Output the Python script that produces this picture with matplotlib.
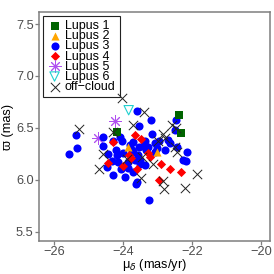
import matplotlib
matplotlib.use("Agg")
import matplotlib.pyplot as plt

plt.rcParams['font.family'] = ['Liberation Sans', 'DejaVu Sans']

lup1_x = [-24.17, -22.38, -22.32]
lup1_y = [6.46, 6.625, 6.45]
lup2_x = [-23.86, -23.01]
lup2_y = [6.32, 6.27]
lup3_x = [-25.36, -24.58, -25.57, -25.33, -24.58, -24.43, -24.32, -24.46, -24.29, -24.14,
          -23.94, -23.86, -23.62, -23.74, -24.03, -23.59, -23.19, -23.54, -23.16, -22.46,
          -22.49, -23.36, -23.07, -22.70, -23.71, -23.42, -22.78, -22.14, -22.26, -22.17,
          -23.71, -23.57, -23.33, -23.51, -23.86, -24.06, -23.71, -23.54, -22.96, -23.51,
          -23.59, -23.25, -22.43, -22.64, -24.29, -24.09, -23.28, -23.07, -23.80, -24.20,
          -24.00, -23.36, -23.01, -23.65, -24.17]
lup3_y = [6.43, 6.41, 6.25, 6.31, 6.33, 6.25, 6.18, 6.125, 6.05, 6.17,
          6.03, 6.11, 5.96, 6.29, 6.37, 6.66, 6.58, 6.52, 6.44, 6.58,
          6.48, 6.37, 6.35, 6.38, 6.36, 6.33, 6.29, 6.27, 6.19, 6.18,
          6.27, 6.24, 6.29, 6.19, 6.17, 6.10, 6.08, 6.32, 6.37, 6.15,
          5.98, 5.81, 6.32, 6.35, 6.37, 6.41, 6.32, 6.27, 6.34, 6.29,
          6.26, 6.14, 6.31, 6.19, 6.24]
lup4_x = [-24.29, -23.65, -23.48, -23.83, -23.28, -23.22, -24.43, -24.00, -23.59, -22.90,
          -22.64, -22.32, -22.96, -23.77]
lup4_y = [6.36, 6.43, 6.39, 6.24, 6.26, 6.22, 6.16, 6.13, 6.10, 6.15,
          6.10, 6.08, 6.00, 6.21]
lup5_x = [-24.23, -24.72]
lup5_y = [6.57, 6.40]
lup6_x = [-23.83]
lup6_y = [6.67]
off_x = [-24.03, -25.28, -23.71, -23.39, -22.58, -22.46, -22.84, -22.78, -22.49, -22.43,
         -24.58, -24.70, -23.88, -23.45, -23.13, -23.48, -22.84, -22.81, -22.20, -21.86,
         -24.29, -22.99]
off_y = [6.79, 6.49, 6.53, 6.65, 6.53, 6.50, 6.44, 6.40, 6.32, 6.27,
         6.25, 6.10, 6.20, 6.22, 6.15, 6.02, 5.99, 5.91, 5.92, 6.06,
         6.46, 6.37]

xticks = [-26, -24, -22, -20]
yticks = [5.5, 6.0, 6.5, 7.0, 7.5]

fig = plt.figure(figsize=(2.74, 2.74), dpi=100)
ax = fig.add_axes([0.142, 0.120, 0.843, 0.836])

h1 = ax.scatter(lup1_x, lup1_y, marker='s', s=32, color='#006400', zorder=5, label='Lupus 1', linewidths=0)
h2 = ax.scatter(lup2_x, lup2_y, marker='^', s=34, color='#FFA500', zorder=4, label='Lupus 2', linewidths=0)
h3 = ax.scatter(lup3_x, lup3_y, marker='o', s=34, color='#0000FF', zorder=3, label='Lupus 3', linewidths=0)
h4 = ax.scatter(lup4_x, lup4_y, marker='D', s=22, color='#FF0000', zorder=4, label='Lupus 4', linewidths=0)
h5 = ax.scatter(lup5_x, lup5_y, marker=(8, 2, 0), s=70, color='#B050F0', zorder=2, label='Lupus 5', linewidths=0.7)
h6 = ax.scatter(lup6_x, lup6_y, marker='v', s=45, facecolors='none', edgecolors='#20D0D0', zorder=5, label='Lupus 6', linewidths=0.8)
h7 = ax.scatter(off_x, off_y, marker='x', s=45, color='#222222', zorder=6, label='off\u2212cloud', linewidths=0.7)

ax.set_xlim(-26.43, -19.74)
ax.set_ylim(5.41, 7.615)
ax.set_xticks(xticks)
ax.set_xticklabels(['\u2212%d' % abs(t) for t in xticks])
ax.set_yticks(yticks)
ax.set_yticklabels(['%.1f' % t for t in yticks])
ax.tick_params(direction='out', length=2.8, width=0.9, colors='#7f7f7f', labelcolor='#4d4d4d', labelsize=9.2, pad=1.0)
for sp in ax.spines.values():
    sp.set_color('#7f7f7f')
    sp.set_linewidth(1.1)

ax.set_xlabel('\u03bc$_\u03b4$ (mas/yr)', fontsize=9.2, labelpad=-1)
ax.set_ylabel('\u03d6 (mas)', fontsize=9.2, labelpad=1)

leg = ax.legend(handles=[h1, h2, h3, h4, h5, h6, h7], loc='upper left', fontsize=9.0,
                frameon=True, fancybox=False, edgecolor='#222222', framealpha=1,
                handletextpad=0.2, labelspacing=-0.15, borderpad=0.35, handlelength=1.2,
                borderaxespad=0.3, scatterpoints=1)
leg.get_frame().set_linewidth(0.8)

fig.savefig('out.png', dpi=100)
